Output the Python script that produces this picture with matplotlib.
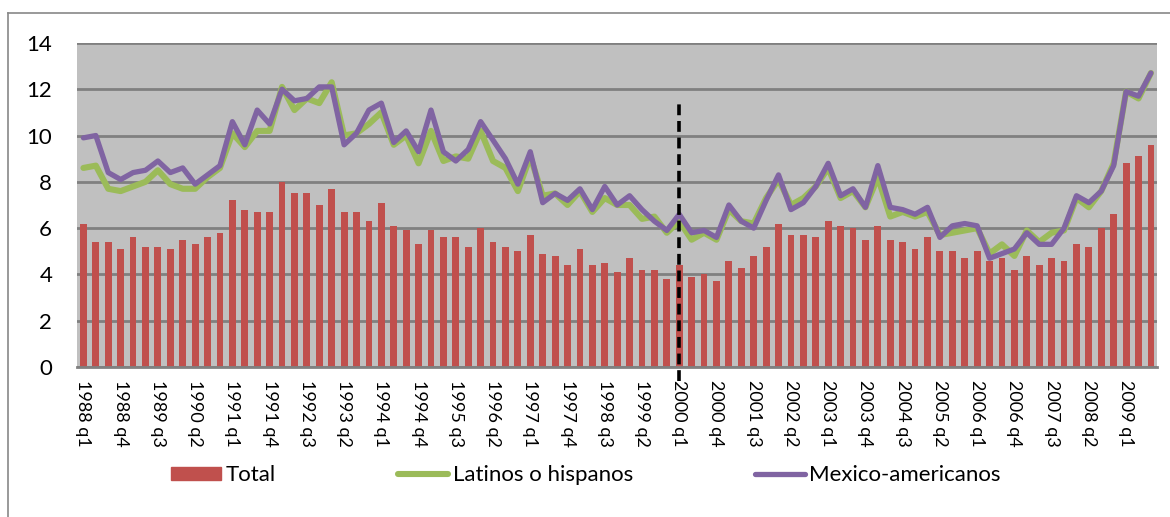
import numpy as np
import matplotlib
matplotlib.use("Agg")
import matplotlib.pyplot as plt
from matplotlib.lines import Line2D

plt.rcParams['font.family'] = ['Lato', 'DejaVu Sans']

# quarterly series 1988 q1 .. 2009 q3
total = [6.2, 5.4, 5.4, 5.1, 5.6, 5.2, 5.2, 5.1, 5.5, 5.3, 5.6, 5.8,
         7.2, 6.8, 6.7, 6.7, 8.0, 7.5, 7.5, 7.0, 7.7, 6.7, 6.7, 6.3,
         7.1, 6.1, 5.9, 5.3, 5.9, 5.6, 5.6, 5.2, 6.0, 5.4, 5.2, 5.0,
         5.7, 4.9, 4.8, 4.4, 5.1, 4.4, 4.5, 4.1, 4.7, 4.2, 4.2, 3.8,
         4.4, 3.9, 4.0, 3.7, 4.6, 4.3, 4.8, 5.2, 6.2, 5.7, 5.7, 5.6,
         6.3, 6.1, 6.0, 5.5, 6.1, 5.5, 5.4, 5.1, 5.6, 5.0, 5.0, 4.7,
         5.0, 4.6, 4.7, 4.2, 4.8, 4.4, 4.7, 4.6, 5.3, 5.2, 6.0, 6.6,
         8.8, 9.1, 9.6]
latinos = [8.6, 8.7, 7.7, 7.6, 7.8, 8.0, 8.5, 7.9, 7.7, 7.7, 8.2, 8.6,
           10.1, 9.5, 10.2, 10.2, 12.1, 11.1, 11.6, 11.4, 12.3, 10.0, 10.1, 10.5,
           11.0, 9.6, 10.0, 8.8, 10.2, 8.9, 9.1, 9.0, 10.2, 8.9, 8.6, 7.6,
           9.1, 7.4, 7.5, 7.0, 7.6, 6.7, 7.3, 7.0, 7.0, 6.4, 6.5, 5.8,
           6.3, 5.5, 5.8, 5.5, 6.8, 6.3, 6.2, 7.3, 8.1, 7.0, 7.3, 7.8,
           8.6, 7.3, 7.6, 6.9, 8.2, 6.5, 6.7, 6.5, 6.7, 5.7, 5.8, 5.9,
           6.0, 4.9, 5.3, 4.8, 5.9, 5.4, 5.8, 5.9, 7.3, 6.9, 7.6, 8.8,
           11.9, 11.6, 12.7]
mexico = [9.9, 10.0, 8.4, 8.1, 8.4, 8.5, 8.9, 8.4, 8.6, 7.9, 8.3, 8.7,
          10.6, 9.6, 11.1, 10.5, 12.0, 11.5, 11.6, 12.1, 12.1, 9.6, 10.1, 11.1,
          11.4, 9.7, 10.2, 9.3, 11.1, 9.3, 8.9, 9.4, 10.6, 9.8, 9.0, 7.9,
          9.3, 7.1, 7.5, 7.2, 7.7, 6.8, 7.8, 7.0, 7.4, 6.8, 6.3, 5.9,
          6.6, 5.8, 5.9, 5.6, 7.0, 6.3, 6.0, 7.2, 8.3, 6.8, 7.1, 7.8,
          8.8, 7.4, 7.7, 6.9, 8.7, 6.9, 6.8, 6.6, 6.9, 5.6, 6.1, 6.2,
          6.1, 4.7, 4.9, 5.1, 5.8, 5.3, 5.3, 6.0, 7.4, 7.1, 7.6, 8.7,
          11.9, 11.7, 12.7]
tick_labels = ['1988 q1', '1988 q4', '1989 q3', '1990 q2', '1991 q1', '1991 q4',
               '1992 q3', '1993 q2', '1994 q1', '1994 q4', '1995 q3', '1996 q2',
               '1997 q1', '1997 q4', '1998 q3', '1999 q2', '2000 q1', '2000 q4',
               '2001 q3', '2002 q2', '2003 q1', '2003 q4', '2004 q3', '2005 q2',
               '2006 q1', '2006 q4', '2007 q3', '2008 q2', '2009 q1']
break_label = '2000 q1'
break_top = 11.4

x = np.arange(len(total))

fig = plt.figure(figsize=(11.7, 5.17), dpi=100)
ax = fig.add_axes([0.066, 0.290, 0.923, 0.627])
ax.set_facecolor('#C0C0C0')

ax.bar(x, total, width=0.55, color='#C0504D', zorder=2, label='Total')
ax.plot(x, latinos, color='#9BBB59', lw=4.4, solid_joinstyle='round',
        solid_capstyle='round', zorder=3, label='Latinos o hispanos')
ax.plot(x, mexico, color='#8064A2', lw=3.8, solid_joinstyle='round',
        solid_capstyle='round', zorder=4, label='Mexico-americanos')

# dashed marker at 2000 q1
xb = x[tick_labels.index(break_label) * 3]
ax.plot([xb, xb], [-0.6, break_top], color='black', lw=2.6,
        linestyle=(0, (3, 1.6)), zorder=5, clip_on=False)

ax.set_xlim(-0.5, len(total) - 0.5)
ax.set_ylim(0, 14)
ax.set_yticks(range(0, 15, 2))
ax.set_xticks(x[::3])
ax.set_xticklabels(tick_labels, rotation=270, ha='center', va='top', fontsize=13)
ax.tick_params(axis='y', length=0, pad=18, labelsize=16)
ax.tick_params(axis='x', length=0, pad=9)
ax.yaxis.grid(True, color='#808080', lw=2, zorder=1)
ax.set_axisbelow(True)
for s in ['left', 'right', 'top']:
    ax.spines[s].set_visible(False)
ax.spines['bottom'].set_color('#808080')
ax.spines['bottom'].set_linewidth(2)

handles = [plt.Rectangle((0, 0), 1, 1, color='#C0504D'),
           Line2D([], [], color='#9BBB59', lw=4.4, solid_capstyle='round'),
           Line2D([], [], color='#8064A2', lw=3.8, solid_capstyle='round')]
fig.legend(handles, ['Total', 'Latinos o hispanos', 'Mexico-americanos'],
           loc='center', bbox_to_anchor=(0.501, 0.081), ncol=3, frameon=False,
           fontsize=16, handlelength=2.25, handleheight=0.55, handletextpad=0.2,
           columnspacing=5.5)

# outer chart border
fig.add_artist(Line2D([8 / 1170, 8 / 1170], [0, 1 - 13 / 517], color='#888888', lw=1.2))
fig.add_artist(Line2D([8 / 1170, 1], [1 - 13 / 517, 1 - 13 / 517], color='#888888', lw=1.2))

fig.savefig('out.png', dpi=100)
